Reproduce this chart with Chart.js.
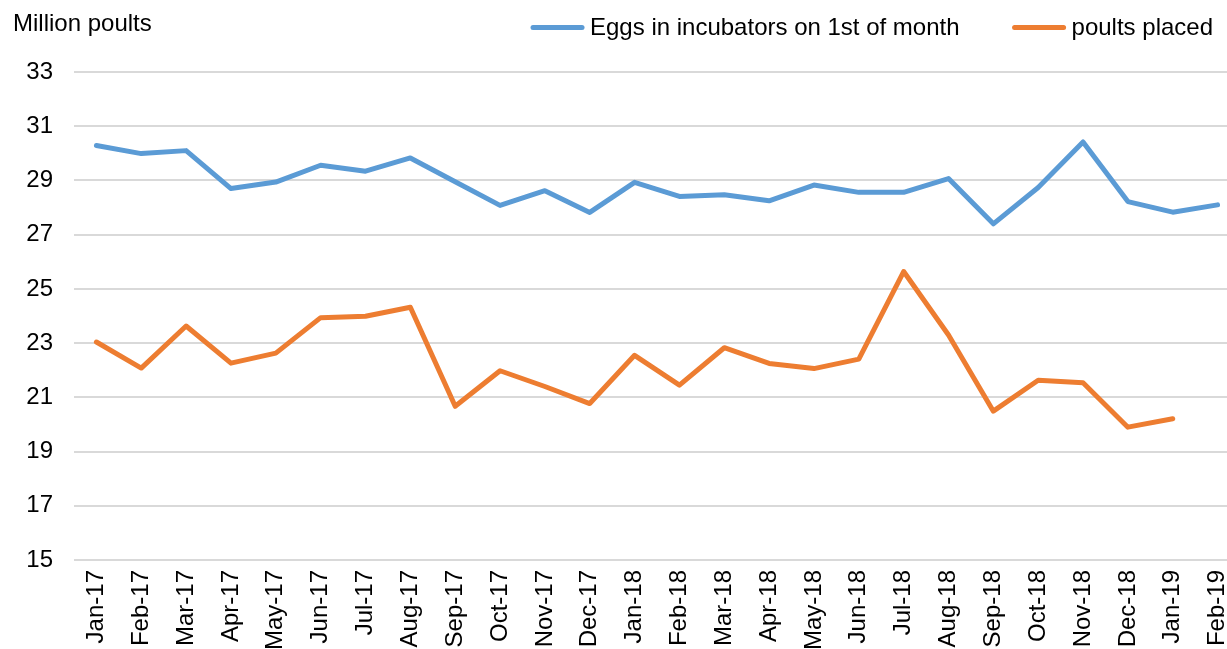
<!DOCTYPE html>
<html>
<head>
<meta charset="utf-8">
<script src="https://cdn.jsdelivr.net/npm/chart.js@4"></script>
<style>
  html, body { margin: 0; padding: 0; overflow: hidden; background: #fff; }
  #wrap { width: 1240px; height: 649px; }
  canvas { display: block; }
</style>
</head>
<body>
<div id="wrap"><canvas id="poults" width="1240" height="649"></canvas></div>
<script>
const months = ['Jan-17', 'Feb-17', 'Mar-17', 'Apr-17', 'May-17', 'Jun-17', 'Jul-17', 'Aug-17',
    'Sep-17', 'Oct-17', 'Nov-17', 'Dec-17', 'Jan-18', 'Feb-18', 'Mar-18', 'Apr-18', 'May-18',
    'Jun-18', 'Jul-18', 'Aug-18', 'Sep-18', 'Oct-18', 'Nov-18', 'Dec-18', 'Jan-19', 'Feb-19'];

const eggs = [30.29, 29.99, 30.10, 28.70, 28.94, 29.56, 29.34, 29.83, 28.95, 28.08, 28.62, 27.82,
    28.93, 28.41, 28.47, 28.25, 28.83, 28.56, 28.56, 29.07, 27.40, 28.74, 30.42, 28.22, 27.83, 28.10];

const poults = [23.04, 22.08, 23.63, 22.26, 22.63, 23.94, 23.99, 24.32, 20.67, 21.98, 21.40, 20.77,
    22.55, 21.45, 22.83, 22.25, 22.06, 22.41, 25.64, 23.30, 20.49, 21.63, 21.54, 19.90, 20.21, null];

const yTitle = 'Million poults';
const FONT = '"Liberation Sans", Arial, sans-serif';

// подпись оси и легенда рисуются вручную, чтобы стояли как в оригинале
const topLabels = {
    id: 'topLabels',
    afterDraw(chart) {
        const ctx = chart.ctx;
        ctx.save();
        ctx.font = '24px ' + FONT;
        ctx.fillStyle = '#000';
        ctx.textBaseline = 'alphabetic';
        ctx.textAlign = 'left';
        ctx.fillText(yTitle, 13, 31);

        const ds = chart.data.datasets;
        let x = 1213;
        for (let i = ds.length - 1; i >= 0; i--) {
            const w = ctx.measureText(ds[i].label).width;
            const textX = x - w;
            ctx.fillStyle = '#000';
            ctx.fillText(ds[i].label, textX, 35);
            const lineEnd = textX - 8;
            const lineStart = lineEnd - 49;
            ctx.beginPath();
            ctx.moveTo(lineStart, 27.5);
            ctx.lineTo(lineEnd, 27.5);
            ctx.strokeStyle = ds[i].borderColor;
            ctx.lineWidth = 5;
            ctx.lineCap = 'round';
            ctx.stroke();
            x = lineStart - 55;
        }
        ctx.restore();
    }
};

const ctx = document.getElementById('poults').getContext('2d');

new Chart(ctx, {
    type: 'line',
    data: {
        labels: months,
        datasets: [{
            label: 'Eggs in incubators on 1st of month',
            data: eggs,
            borderColor: '#5b9bd5',
            backgroundColor: '#5b9bd5',
            borderWidth: 5,
            borderCapStyle: 'round',
            borderJoinStyle: 'round',
            pointRadius: 0,
            tension: 0
        }, {
            label: 'poults placed',
            data: poults,
            borderColor: '#ed7d31',
            backgroundColor: '#ed7d31',
            borderWidth: 5,
            borderCapStyle: 'round',
            borderJoinStyle: 'round',
            pointRadius: 0,
            tension: 0
        }]
    },
    options: {
        responsive: false,
        animation: false,
        devicePixelRatio: 1,
        layout: {
            padding: { top: 72, left: 0, right: 0, bottom: 0 }
        },
        plugins: {
            legend: { display: false },
            tooltip: { enabled: false }
        },
        scales: {
            y: {
                min: 15,
                max: 33,
                ticks: {
                    stepSize: 2,
                    color: '#000',
                    padding: 21,
                    font: { family: FONT, size: 24 }
                },
                grid: {
                    color: '#d9d9d9',
                    lineWidth: 2,
                    drawTicks: false
                },
                border: { display: false },
                afterFit(scale) { scale.width = 74; }
            },
            x: {
                offset: true,
                ticks: {
                    autoSkip: false,
                    maxRotation: 90,
                    minRotation: 90,
                    color: '#000',
                    padding: 10,
                    font: { family: FONT, size: 24 }
                },
                grid: { display: false, drawTicks: false },
                border: { display: false },
                // график обрезан справа, как в оригинале
                afterFit(scale) {
                    scale.height = 89;
                    scale.paddingLeft = 0;
                    scale.paddingRight = 0;
                }
            }
        }
    },
    plugins: [topLabels]
});
</script>
</body>
</html>
